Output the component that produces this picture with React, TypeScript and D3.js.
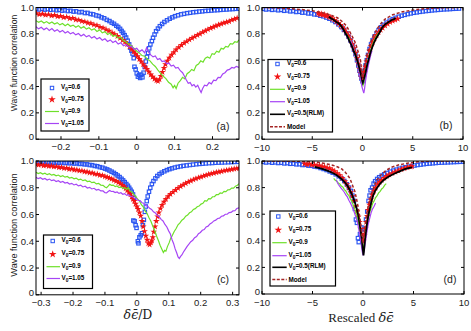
import React from 'react';
import * as d3 from 'd3';

type Pt = [number, number];

// ---- panel (a): correlation vs δε/D ----
const aBlue: Pt[] = [[-0.265,0.99],[-0.258,0.985],[-0.25,0.99],[-0.243,0.984],[-0.235,0.988],[-0.228,0.982],[-0.22,0.985],[-0.212,0.979],[-0.205,0.982],[-0.197,0.976],[-0.19,0.979],[-0.182,0.973],[-0.175,0.975],[-0.167,0.969],[-0.16,0.971],[-0.152,0.964],[-0.145,0.966],[-0.137,0.958],[-0.13,0.959],[-0.122,0.951],[-0.115,0.948],[-0.107,0.94],[-0.1,0.935],[-0.093,0.925],[-0.086,0.918],[-0.079,0.906],[-0.072,0.897],[-0.066,0.885],[-0.06,0.876],[-0.054,0.862],[-0.049,0.852],[-0.044,0.838],[-0.04,0.822],[-0.036,0.808],[-0.032,0.79],[-0.028,0.772],[-0.024,0.748],[-0.02,0.72],[-0.017,0.695],[-0.014,0.672],[-0.011,0.65],[-0.008,0.615],[-0.006,0.55],[-0.003,0.53],[0,0.5],[0.003,0.475],[0.006,0.488],[0.009,0.465],[0.012,0.49],[0.015,0.47],[0.018,0.505],[0.021,0.548],[0.024,0.59],[0.027,0.625],[0.03,0.655],[0.033,0.69],[0.036,0.72],[0.04,0.745],[0.043,0.77],[0.047,0.795],[0.051,0.82],[0.056,0.84],[0.061,0.858],[0.067,0.875],[0.073,0.89],[0.08,0.903],[0.087,0.915],[0.094,0.925],[0.101,0.934],[0.109,0.941],[0.117,0.948],[0.125,0.952],[0.133,0.957],[0.141,0.96],[0.149,0.964],[0.157,0.966],[0.165,0.969],[0.173,0.971],[0.181,0.974],[0.189,0.975],[0.197,0.977],[0.205,0.979],[0.213,0.98],[0.221,0.982],[0.229,0.984],[0.237,0.985],[0.245,0.987],[0.253,0.988],[0.261,0.99],[0.268,0.991]];
const aRed: Pt[] = [[-0.265,0.955],[-0.257,0.947],[-0.249,0.952],[-0.241,0.943],[-0.233,0.947],[-0.225,0.938],[-0.217,0.942],[-0.209,0.932],[-0.201,0.935],[-0.193,0.925],[-0.185,0.928],[-0.177,0.917],[-0.169,0.919],[-0.161,0.908],[-0.153,0.905],[-0.145,0.896],[-0.137,0.892],[-0.129,0.884],[-0.121,0.879],[-0.113,0.869],[-0.105,0.864],[-0.097,0.852],[-0.089,0.845],[-0.081,0.832],[-0.073,0.822],[-0.065,0.808],[-0.058,0.797],[-0.051,0.782],[-0.044,0.768],[-0.037,0.752],[-0.031,0.738],[-0.025,0.72],[-0.019,0.703],[-0.013,0.683],[-0.008,0.665],[-0.003,0.648],[0.002,0.63],[0.007,0.608],[0.012,0.59],[0.017,0.568],[0.022,0.55],[0.027,0.532],[0.032,0.512],[0.037,0.49],[0.042,0.473],[0.047,0.458],[0.052,0.447],[0.056,0.44],[0.06,0.455],[0.064,0.48],[0.068,0.51],[0.072,0.54],[0.076,0.568],[0.081,0.595],[0.086,0.618],[0.092,0.64],[0.098,0.66],[0.104,0.68],[0.111,0.698],[0.118,0.715],[0.125,0.73],[0.132,0.742],[0.139,0.755],[0.146,0.768],[0.153,0.778],[0.16,0.79],[0.167,0.8],[0.174,0.812],[0.181,0.822],[0.188,0.833],[0.195,0.843],[0.202,0.851],[0.209,0.86],[0.216,0.868],[0.223,0.875],[0.23,0.883],[0.237,0.889],[0.244,0.895],[0.251,0.905],[0.258,0.912],[0.265,0.92]];
const aGreen: Pt[] = [[-0.266,0.9],[-0.259,0.888],[-0.252,0.897],[-0.245,0.882],[-0.238,0.893],[-0.231,0.878],[-0.224,0.89],[-0.217,0.874],[-0.21,0.885],[-0.203,0.868],[-0.196,0.879],[-0.189,0.862],[-0.182,0.874],[-0.175,0.858],[-0.168,0.866],[-0.161,0.85],[-0.154,0.862],[-0.147,0.843],[-0.14,0.855],[-0.133,0.836],[-0.126,0.846],[-0.119,0.828],[-0.112,0.838],[-0.105,0.818],[-0.098,0.83],[-0.091,0.808],[-0.084,0.817],[-0.077,0.795],[-0.07,0.806],[-0.063,0.782],[-0.056,0.79],[-0.049,0.768],[-0.042,0.774],[-0.035,0.748],[-0.028,0.738],[-0.021,0.72],[-0.014,0.708],[-0.007,0.69],[0,0.668],[0.007,0.655],[0.014,0.635],[0.021,0.63],[0.028,0.607],[0.035,0.595],[0.042,0.57],[0.049,0.552],[0.056,0.525],[0.063,0.5],[0.07,0.478],[0.077,0.46],[0.084,0.432],[0.091,0.418],[0.096,0.39],[0.1,0.408],[0.104,0.385],[0.109,0.425],[0.115,0.445],[0.121,0.47],[0.127,0.458],[0.133,0.497],[0.139,0.51],[0.145,0.53],[0.151,0.52],[0.157,0.56],[0.163,0.57],[0.169,0.595],[0.175,0.585],[0.181,0.615],[0.187,0.625],[0.193,0.615],[0.199,0.65],[0.205,0.645],[0.211,0.668],[0.217,0.66],[0.223,0.69],[0.229,0.685],[0.235,0.705],[0.241,0.7],[0.247,0.725],[0.253,0.722],[0.259,0.74],[0.265,0.735],[0.27,0.755]];
const aPurple: Pt[] = [[-0.266,0.855],[-0.259,0.838],[-0.252,0.85],[-0.245,0.832],[-0.238,0.845],[-0.231,0.826],[-0.224,0.84],[-0.217,0.82],[-0.21,0.832],[-0.203,0.814],[-0.196,0.826],[-0.189,0.806],[-0.182,0.818],[-0.175,0.8],[-0.168,0.81],[-0.161,0.792],[-0.154,0.803],[-0.147,0.784],[-0.14,0.796],[-0.133,0.777],[-0.126,0.788],[-0.119,0.768],[-0.112,0.78],[-0.105,0.76],[-0.098,0.772],[-0.091,0.752],[-0.084,0.763],[-0.077,0.742],[-0.07,0.754],[-0.063,0.734],[-0.056,0.745],[-0.049,0.722],[-0.042,0.732],[-0.035,0.71],[-0.028,0.72],[-0.021,0.7],[-0.014,0.705],[-0.007,0.682],[0,0.69],[0.007,0.665],[0.014,0.678],[0.021,0.655],[0.026,0.695],[0.031,0.66],[0.037,0.64],[0.043,0.625],[0.049,0.632],[0.055,0.605],[0.061,0.612],[0.067,0.59],[0.073,0.595],[0.079,0.572],[0.085,0.578],[0.091,0.555],[0.097,0.562],[0.103,0.54],[0.109,0.545],[0.115,0.52],[0.121,0.505],[0.126,0.478],[0.131,0.45],[0.136,0.425],[0.141,0.43],[0.146,0.405],[0.151,0.415],[0.156,0.395],[0.161,0.41],[0.166,0.378],[0.17,0.355],[0.174,0.385],[0.179,0.41],[0.185,0.405],[0.191,0.43],[0.197,0.42],[0.203,0.448],[0.209,0.445],[0.215,0.47],[0.221,0.468],[0.227,0.495],[0.233,0.505],[0.239,0.525],[0.245,0.53],[0.251,0.545],[0.257,0.54],[0.263,0.553],[0.27,0.545]];

// ---- panel (b): rescaled, same data set as (a) ----
const bBlue: Pt[] = [[-9.9,0.99],[-9.6,0.985],[-9.3,0.988],[-9,0.982],[-8.7,0.985],[-8.4,0.979],[-8.1,0.982],[-7.8,0.975],[-7.5,0.978],[-7.2,0.971],[-6.9,0.973],[-6.6,0.966],[-6.3,0.968],[-6,0.961],[-5.7,0.962],[-5.4,0.955],[-5.1,0.956],[-4.8,0.948],[-4.5,0.946],[-4.2,0.938],[-3.9,0.933],[-3.6,0.924],[-3.3,0.915],[-3,0.903],[-2.7,0.89],[-2.4,0.872],[-2.1,0.852],[-1.85,0.83],[-1.6,0.805],[-1.4,0.78],[-1.2,0.75],[-1,0.715],[-0.85,0.68],[-0.7,0.645],[-0.55,0.6],[-0.42,0.56],[-0.3,0.52],[-0.2,0.49],[-0.1,0.46],[0,0.44],[0.1,0.47],[0.2,0.52],[0.3,0.56],[0.42,0.6],[0.55,0.64],[0.7,0.685],[0.85,0.72],[1,0.75],[1.2,0.78],[1.4,0.805],[1.6,0.828],[1.85,0.85],[2.1,0.868],[2.4,0.885],[2.7,0.9],[3,0.912],[3.3,0.922],[3.6,0.93],[3.9,0.938],[4.2,0.944],[4.5,0.95],[4.8,0.955],[5.1,0.96],[5.4,0.963],[5.7,0.967],[6,0.97],[6.3,0.973],[6.6,0.975],[6.9,0.978],[7.2,0.98],[7.5,0.982],[7.8,0.984],[8.1,0.986],[8.4,0.987],[8.7,0.988],[9,0.99],[9.3,0.991],[9.6,0.992]];
const bRed: Pt[] = [[-4.4,0.955],[-4.25,0.948],[-4.1,0.952],[-3.95,0.943],[-3.8,0.946],[-3.65,0.937],[-3.5,0.938],[-3.35,0.928],[-3.2,0.925],[-3,0.915],[-2.8,0.905],[-2.6,0.893],[-2.4,0.88],[-2.2,0.866],[-2,0.85],[-1.8,0.832],[-1.6,0.81],[-1.4,0.785],[-1.2,0.755],[-1,0.72],[-0.85,0.69],[-0.7,0.655],[-0.55,0.615],[-0.42,0.575],[-0.3,0.535],[-0.2,0.5],[-0.1,0.47],[0,0.45],[0.1,0.47],[0.2,0.51],[0.3,0.55],[0.42,0.59],[0.55,0.63],[0.7,0.67],[0.85,0.705],[1,0.735],[1.2,0.765],[1.4,0.79],[1.6,0.812],[1.8,0.83],[2,0.845],[2.25,0.862],[2.5,0.876],[2.75,0.888],[3,0.898],[3.25,0.906],[3.5,0.913]];
const bGreen: Pt[] = [[-1.6,0.8],[-1.45,0.775],[-1.3,0.76],[-1.15,0.73],[-1,0.71],[-0.85,0.675],[-0.7,0.64],[-0.55,0.6],[-0.4,0.55],[-0.28,0.51],[-0.16,0.47],[-0.05,0.43],[0.05,0.41],[0.15,0.44],[0.25,0.48],[0.38,0.53],[0.5,0.575],[0.62,0.62],[0.75,0.655],[0.88,0.69],[1,0.72],[1.15,0.745],[1.3,0.77],[1.45,0.79],[1.6,0.805],[1.7,0.815]];
const bPurple: Pt[] = [[-1.2,0.75],[-1.05,0.72],[-0.9,0.69],[-0.75,0.65],[-0.6,0.61],[-0.45,0.56],[-0.3,0.5],[-0.18,0.45],[-0.06,0.4],[0.05,0.37],[0.13,0.35],[0.2,0.38],[0.3,0.44],[0.42,0.5],[0.55,0.55],[0.7,0.6],[0.85,0.65],[0.95,0.67]];
const bBlack: Pt[] = [[-3.35,0.93],[-3.1,0.917],[-2.85,0.905],[-2.6,0.89],[-2.37,0.88],[-2.15,0.862],[-1.95,0.84],[-1.7,0.805],[-1.5,0.78],[-1.3,0.745],[-1.1,0.715],[-0.9,0.675],[-0.7,0.64],[-0.53,0.6],[-0.38,0.56],[-0.25,0.52],[-0.12,0.48],[-0.03,0.445],[0.03,0.43],[0.1,0.45],[0.2,0.475],[0.3,0.505],[0.45,0.56],[0.63,0.61],[0.8,0.66],[0.98,0.7],[1.13,0.73],[1.35,0.765],[1.63,0.8],[1.9,0.84],[2.1,0.86],[2.3,0.875],[2.6,0.89],[2.9,0.905],[3.1,0.91],[3.3,0.92]];
const bModel: Pt[] = [[-10,1],[-8.5,0.997],[-7,0.99],[-6,0.984],[-5,0.975],[-4.3,0.965],[-3.7,0.955],[-3,0.938],[-2.5,0.922],[-2.2,0.905],[-1.9,0.885],[-1.6,0.86],[-1.37,0.83],[-1.15,0.8],[-0.95,0.77],[-0.7,0.73],[-0.5,0.68],[-0.3,0.63],[-0.2,0.6],[-0.1,0.53],[0,0.45],[0.1,0.52],[0.2,0.56],[0.3,0.59],[0.5,0.66],[0.8,0.73],[1.1,0.79],[1.47,0.84],[1.9,0.885],[2.3,0.915],[3,0.945],[4,0.968],[5,0.98],[5.7,0.988],[7,0.995],[8.5,0.998],[10,1]];

// ---- panel (c) ----
const cBlue: Pt[] = [[-0.316,0.995],[-0.308,0.99],[-0.3,0.994],[-0.292,0.989],[-0.284,0.993],[-0.276,0.988],[-0.268,0.992],[-0.26,0.987],[-0.252,0.99],[-0.244,0.986],[-0.236,0.989],[-0.228,0.985],[-0.22,0.987],[-0.212,0.983],[-0.204,0.985],[-0.196,0.981],[-0.188,0.983],[-0.18,0.978],[-0.172,0.979],[-0.164,0.975],[-0.156,0.975],[-0.148,0.97],[-0.14,0.969],[-0.132,0.963],[-0.124,0.961],[-0.116,0.954],[-0.108,0.95],[-0.1,0.943],[-0.093,0.937],[-0.086,0.929],[-0.079,0.92],[-0.072,0.911],[-0.066,0.901],[-0.06,0.891],[-0.054,0.88],[-0.048,0.867],[-0.043,0.855],[-0.038,0.842],[-0.033,0.828],[-0.028,0.815],[-0.024,0.8],[-0.02,0.785],[-0.016,0.77],[-0.012,0.75],[-0.009,0.725],[-0.011,0.555],[-0.007,0.55],[-0.004,0.52],[-0.001,0.5],[0.003,0.4],[0.005,0.385],[0.008,0.43],[0.012,0.445],[0.016,0.46],[0.019,0.52],[0.022,0.56],[0.025,0.62],[0.028,0.66],[0.031,0.7],[0.034,0.735],[0.038,0.77],[0.042,0.8],[0.047,0.828],[0.052,0.85],[0.058,0.87],[0.064,0.888],[0.071,0.902],[0.078,0.913],[0.086,0.923],[0.094,0.932],[0.102,0.939],[0.11,0.945],[0.119,0.951],[0.128,0.956],[0.137,0.96],[0.146,0.964],[0.156,0.967],[0.166,0.97],[0.176,0.973],[0.186,0.976],[0.196,0.978],[0.206,0.98],[0.216,0.982],[0.226,0.984],[0.236,0.985],[0.246,0.987],[0.256,0.988],[0.266,0.989],[0.276,0.99],[0.286,0.991],[0.296,0.992],[0.306,0.993],[0.316,0.994]];
const cRed: Pt[] = [[-0.316,0.975],[-0.308,0.97],[-0.3,0.973],[-0.292,0.966],[-0.284,0.968],[-0.276,0.962],[-0.268,0.964],[-0.26,0.957],[-0.252,0.959],[-0.244,0.952],[-0.236,0.953],[-0.228,0.946],[-0.22,0.947],[-0.212,0.94],[-0.204,0.941],[-0.196,0.934],[-0.188,0.934],[-0.18,0.927],[-0.172,0.927],[-0.164,0.92],[-0.156,0.919],[-0.148,0.912],[-0.14,0.911],[-0.132,0.903],[-0.124,0.902],[-0.116,0.894],[-0.108,0.892],[-0.1,0.884],[-0.093,0.879],[-0.086,0.872],[-0.079,0.866],[-0.072,0.857],[-0.065,0.85],[-0.058,0.84],[-0.052,0.831],[-0.046,0.82],[-0.04,0.808],[-0.035,0.795],[-0.03,0.78],[-0.025,0.765],[-0.02,0.75],[-0.016,0.732],[-0.012,0.715],[-0.008,0.7],[-0.004,0.68],[0,0.66],[0.004,0.64],[0.008,0.615],[0.012,0.59],[0.016,0.55],[0.02,0.51],[0.024,0.475],[0.028,0.44],[0.032,0.41],[0.036,0.385],[0.04,0.375],[0.044,0.39],[0.047,0.405],[0.05,0.43],[0.053,0.47],[0.057,0.51],[0.061,0.55],[0.065,0.585],[0.069,0.615],[0.074,0.645],[0.079,0.67],[0.085,0.695],[0.091,0.715],[0.098,0.735],[0.105,0.752],[0.113,0.768],[0.121,0.783],[0.129,0.797],[0.137,0.81],[0.145,0.822],[0.153,0.833],[0.161,0.843],[0.169,0.852],[0.177,0.86],[0.185,0.868],[0.193,0.875],[0.201,0.882],[0.209,0.888],[0.217,0.894],[0.225,0.9],[0.233,0.905],[0.241,0.91],[0.249,0.915],[0.257,0.919],[0.265,0.923],[0.273,0.927],[0.281,0.931],[0.289,0.934],[0.297,0.938],[0.305,0.941],[0.313,0.944],[0.32,0.947]];
const cGreen: Pt[] = [[-0.316,0.915],[-0.309,0.906],[-0.302,0.913],[-0.295,0.902],[-0.288,0.909],[-0.281,0.898],[-0.274,0.905],[-0.267,0.894],[-0.26,0.9],[-0.253,0.889],[-0.246,0.895],[-0.239,0.884],[-0.232,0.89],[-0.225,0.879],[-0.218,0.884],[-0.211,0.873],[-0.204,0.878],[-0.197,0.867],[-0.19,0.872],[-0.183,0.86],[-0.176,0.865],[-0.169,0.853],[-0.162,0.858],[-0.155,0.846],[-0.148,0.85],[-0.141,0.838],[-0.134,0.842],[-0.127,0.829],[-0.12,0.833],[-0.113,0.82],[-0.106,0.818],[-0.1,0.806],[-0.095,0.8],[-0.09,0.812],[-0.085,0.826],[-0.08,0.818],[-0.074,0.82],[-0.068,0.808],[-0.062,0.813],[-0.056,0.801],[-0.05,0.807],[-0.044,0.795],[-0.038,0.8],[-0.032,0.788],[-0.027,0.802],[-0.022,0.776],[-0.016,0.77],[-0.01,0.75],[-0.004,0.737],[0.002,0.716],[0.008,0.702],[0.014,0.673],[0.02,0.657],[0.026,0.626],[0.032,0.607],[0.038,0.576],[0.044,0.55],[0.05,0.513],[0.056,0.48],[0.062,0.438],[0.068,0.402],[0.073,0.368],[0.078,0.342],[0.083,0.316],[0.087,0.332],[0.091,0.326],[0.096,0.362],[0.101,0.388],[0.106,0.422],[0.111,0.443],[0.117,0.473],[0.123,0.495],[0.129,0.523],[0.135,0.537],[0.141,0.558],[0.147,0.568],[0.153,0.588],[0.159,0.596],[0.165,0.613],[0.171,0.62],[0.177,0.638],[0.183,0.644],[0.189,0.658],[0.195,0.663],[0.201,0.678],[0.207,0.684],[0.213,0.703],[0.219,0.7],[0.225,0.718],[0.231,0.717],[0.237,0.733],[0.243,0.734],[0.249,0.748],[0.255,0.748],[0.261,0.761],[0.267,0.758],[0.273,0.773],[0.279,0.771],[0.285,0.784],[0.291,0.786],[0.297,0.798],[0.303,0.797],[0.309,0.812],[0.315,0.818],[0.32,0.83]];
const cPurple: Pt[] = [[-0.316,0.878],[-0.309,0.868],[-0.302,0.875],[-0.295,0.863],[-0.288,0.87],[-0.281,0.858],[-0.274,0.865],[-0.267,0.853],[-0.26,0.859],[-0.253,0.847],[-0.246,0.853],[-0.239,0.841],[-0.232,0.847],[-0.225,0.835],[-0.218,0.84],[-0.211,0.828],[-0.204,0.833],[-0.197,0.821],[-0.19,0.826],[-0.183,0.814],[-0.176,0.819],[-0.169,0.806],[-0.162,0.811],[-0.155,0.798],[-0.148,0.803],[-0.141,0.791],[-0.134,0.796],[-0.127,0.783],[-0.12,0.788],[-0.113,0.776],[-0.106,0.776],[-0.1,0.763],[-0.095,0.762],[-0.09,0.772],[-0.085,0.78],[-0.08,0.772],[-0.074,0.773],[-0.068,0.764],[-0.062,0.769],[-0.056,0.758],[-0.05,0.763],[-0.044,0.751],[-0.038,0.756],[-0.032,0.743],[-0.026,0.748],[-0.02,0.735],[-0.014,0.734],[-0.008,0.722],[-0.002,0.721],[0.004,0.706],[0.01,0.704],[0.016,0.688],[0.022,0.684],[0.028,0.666],[0.034,0.662],[0.04,0.646],[0.046,0.638],[0.052,0.62],[0.058,0.612],[0.064,0.593],[0.07,0.584],[0.076,0.564],[0.082,0.552],[0.088,0.526],[0.094,0.507],[0.1,0.476],[0.105,0.454],[0.11,0.413],[0.115,0.384],[0.12,0.343],[0.125,0.312],[0.129,0.283],[0.133,0.272],[0.137,0.287],[0.141,0.298],[0.146,0.32],[0.151,0.338],[0.157,0.36],[0.163,0.378],[0.169,0.397],[0.175,0.408],[0.181,0.427],[0.187,0.436],[0.193,0.457],[0.199,0.466],[0.205,0.482],[0.211,0.488],[0.217,0.507],[0.223,0.513],[0.229,0.53],[0.235,0.538],[0.241,0.552],[0.247,0.558],[0.253,0.57],[0.259,0.573],[0.265,0.587],[0.271,0.59],[0.277,0.602],[0.283,0.603],[0.289,0.614],[0.295,0.616],[0.301,0.627],[0.307,0.628],[0.313,0.645],[0.32,0.65]];

// ---- panel (d) ----
const dBlue: Pt[] = [[-9.9,0.993],[-9.6,0.989],[-9.3,0.992],[-9,0.987],[-8.7,0.99],[-8.4,0.985],[-8.1,0.987],[-7.8,0.982],[-7.5,0.984],[-7.2,0.979],[-6.9,0.98],[-6.6,0.975],[-6.3,0.976],[-6,0.97],[-5.7,0.971],[-5.4,0.965],[-5.1,0.964],[-4.8,0.958],[-4.5,0.955],[-4.2,0.947],[-3.9,0.94],[-3.6,0.932],[-3.3,0.922],[-3,0.912],[-2.7,0.9],[-2.4,0.885],[-2.1,0.868],[-1.85,0.85],[-1.6,0.825],[-1.4,0.8],[-1.2,0.775],[-1.05,0.74],[-0.9,0.7],[-0.8,0.64],[-0.7,0.56],[-0.6,0.535],[-0.5,0.42],[-0.42,0.39],[-0.3,0.45],[-0.15,0.5],[0,0.46],[0.15,0.49],[0.3,0.56],[0.42,0.62],[0.55,0.7],[0.65,0.74],[0.75,0.78],[0.9,0.8],[1.05,0.83],[1.2,0.848],[1.4,0.865],[1.6,0.878],[1.85,0.89],[2.1,0.9],[2.4,0.91],[2.7,0.92],[3,0.928],[3.3,0.935],[3.6,0.942],[3.9,0.948],[4.2,0.953],[4.5,0.958],[4.8,0.962],[5.1,0.966],[5.4,0.97],[5.7,0.973],[6,0.976],[6.3,0.979],[6.6,0.981],[6.9,0.983],[7.2,0.985],[7.5,0.987],[7.8,0.988],[8.1,0.989],[8.4,0.99],[8.7,0.991],[9,0.992],[9.3,0.993],[9.6,0.994],[9.9,0.995]];
const dRed: Pt[] = [[-5.8,0.98],[-5.55,0.975],[-5.3,0.978],[-5.05,0.97],[-4.8,0.972],[-4.55,0.965],[-4.3,0.966],[-4.05,0.958],[-3.8,0.957],[-3.55,0.948],[-3.3,0.944],[-3.05,0.933],[-2.8,0.922],[-2.55,0.908],[-2.3,0.892],[-2.05,0.872],[-1.8,0.848],[-1.6,0.825],[-1.4,0.798],[-1.2,0.765],[-1.05,0.735],[-0.9,0.7],[-0.75,0.66],[-0.6,0.62],[-0.47,0.58],[-0.35,0.54],[-0.23,0.49],[-0.12,0.45],[-0.03,0.41],[0.05,0.4],[0.13,0.44],[0.22,0.49],[0.32,0.54],[0.42,0.585],[0.53,0.63],[0.65,0.67],[0.78,0.71],[0.92,0.745],[1.08,0.775],[1.25,0.8],[1.45,0.825],[1.65,0.843],[1.85,0.857],[2.1,0.872],[2.35,0.886],[2.6,0.897],[2.9,0.908],[3.2,0.918],[3.5,0.928],[3.8,0.937],[4.1,0.945],[4.4,0.952],[4.7,0.958],[4.85,0.96]];
const dGreen: Pt[] = [[-2.9,0.87],[-2.75,0.855],[-2.6,0.848],[-2.45,0.835],[-2.3,0.828],[-2.15,0.812],[-2,0.805],[-1.85,0.785],[-1.7,0.775],[-1.55,0.752],[-1.4,0.74],[-1.25,0.715],[-1.1,0.695],[-0.95,0.665],[-0.8,0.635],[-0.65,0.6],[-0.5,0.56],[-0.35,0.5],[-0.22,0.44],[-0.1,0.38],[0,0.34],[0.1,0.37],[0.22,0.43],[0.35,0.5],[0.5,0.56],[0.65,0.61],[0.8,0.645],[0.95,0.68],[1.1,0.7],[1.25,0.725],[1.4,0.74],[1.55,0.76],[1.7,0.772],[1.85,0.79],[2,0.8],[2.15,0.818],[2.3,0.83]];
const dPurple: Pt[] = [[-2.65,0.86],[-2.55,0.84],[-2.45,0.825],[-2.3,0.81],[-2.15,0.795],[-2,0.78],[-1.85,0.765],[-1.7,0.745],[-1.55,0.73],[-1.4,0.705],[-1.25,0.685],[-1.1,0.66],[-0.95,0.635],[-0.8,0.6],[-0.65,0.565],[-0.5,0.52],[-0.35,0.46],[-0.22,0.4],[-0.1,0.33],[0,0.29],[0.1,0.32],[0.22,0.38],[0.35,0.45],[0.5,0.52],[0.65,0.565],[0.8,0.61],[0.95,0.64],[1.1,0.66],[1.25,0.685]];
const dBlack: Pt[] = [[-4.8,0.955],[-4.5,0.95],[-4.2,0.944],[-3.9,0.937],[-3.6,0.93],[-3.3,0.92],[-3,0.91],[-2.7,0.898],[-2.4,0.882],[-2.1,0.863],[-1.8,0.84],[-1.55,0.815],[-1.3,0.78],[-1.1,0.75],[-0.9,0.71],[-0.75,0.675],[-0.6,0.635],[-0.45,0.585],[-0.32,0.52],[-0.2,0.46],[-0.1,0.4],[-0.03,0.34],[0.05,0.29],[0.12,0.34],[0.2,0.41],[0.3,0.47],[0.42,0.54],[0.55,0.6],[0.7,0.65],[0.85,0.7],[1,0.74],[1.2,0.775],[1.45,0.805],[1.7,0.83],[2,0.853],[2.3,0.87],[2.6,0.885],[3,0.9],[3.4,0.915],[3.8,0.928],[4.2,0.94],[4.6,0.948],[4.85,0.953]];
const dModel: Pt[] = [[-10,1],[-8,1],[-6.5,0.998],[-5.5,0.995],[-4.5,0.99],[-3.7,0.98],[-3,0.968],[-2.5,0.955],[-2.1,0.94],[-1.75,0.915],[-1.5,0.89],[-1.3,0.87],[-1.05,0.82],[-0.8,0.77],[-0.6,0.7],[-0.4,0.62],[-0.25,0.54],[-0.13,0.46],[-0.05,0.4],[0,0.38],[0.05,0.4],[0.13,0.46],[0.25,0.54],[0.37,0.6],[0.55,0.68],[0.86,0.76],[1.1,0.81],[1.3,0.85],[1.6,0.88],[1.85,0.9],[2.3,0.93],[2.8,0.952],[3.5,0.97],[4.5,0.985],[5.5,0.995],[7,1],[10,1]];

const yTicks = [0, 0.2, 0.4, 0.6, 0.8, 1.0];
const legendLabels = ['0.6', '0.75', '0.9', '1.05', '0.5(RLM)'];

const BLUE = '#2a55f2';
const RED = '#f21414';
const GREEN = '#6ee02a';
const PURPLE = '#a645f5';
const MODEL = '#a52424';
const SANS = 'Liberation Sans, Arial, Helvetica, sans-serif';

const minus = (s: string) => s.replace('-', '\u2212');

function Panel({ cfg }: { cfg: any }) {
  const x = d3.scaleLinear().domain(cfg.xDomain).range(cfg.xRange);
  const y = d3.scaleLinear().domain([0, 1]).range(cfg.yRange);
  const [x0, x1] = cfg.xRange;
  const [yb, yt] = cfg.yRange;
  const line = d3.line<Pt>().x(d => x(d[0])).y(d => y(d[1]));
  const star = d3.symbol().type(d3.symbolStar).size(14)();
  const starL = d3.symbol().type(d3.symbolStar).size(18)();
  const clip = `clip-${cfg.id}`;
  const s = cfg.series;
  const lg = cfg.legend;
  const fmt = cfg.xFmt;

  const legendItems: string[] = s.black ? ['sq', 'st', 'g', 'p', 'k', 'm'] : ['sq', 'st', 'g', 'p'];

  return (
    <g>
      <defs>
        <clipPath id={clip}>
          <rect x={x0} y={yt} width={x1 - x0} height={yb - yt} />
        </clipPath>
      </defs>
      <g clipPath={`url(#${clip})`}>
        {s.blue.map((d: Pt, i: number) => (
          <rect key={'b' + i} x={x(d[0]) - 1.7} y={y(d[1]) - 1.7} width={3.4} height={3.4}
            fill="none" stroke={BLUE} strokeWidth={1.15} />
        ))}
        {s.red.map((d: Pt, i: number) => (
          <path key={'r' + i} d={star as string} transform={`translate(${x(d[0])},${y(d[1])})`} fill={RED} />
        ))}
        <path d={line(s.green) as string} fill="none" stroke={GREEN} strokeWidth={1.2} />
        <path d={line(s.purple) as string} fill="none" stroke={PURPLE} strokeWidth={1.2} />
        {s.black && <path d={line(s.black) as string} fill="none" stroke="#000" strokeWidth={1.8} />}
        {s.model && <path d={line(s.model) as string} fill="none" stroke={MODEL} strokeWidth={1.5} strokeDasharray="3,2" />}
      </g>
      <rect x={x0} y={yt} width={x1 - x0} height={yb - yt} fill="none" stroke="#000" strokeWidth={1} />
      {cfg.xTicks.map((t: number) => (
        <g key={'xt' + t}>
          <line x1={x(t)} x2={x(t)} y1={yb} y2={yb - 3} stroke="#000" />
          <line x1={x(t)} x2={x(t)} y1={yt} y2={yt + 3} stroke="#000" />
          <text x={x(t)} y={cfg.xLabelY} textAnchor="middle" fontSize={9.5} fontFamily={SANS} fill="#222">
            {t === 0 ? '0' : minus(fmt(t))}
          </text>
        </g>
      ))}
      {yTicks.map(t => (
        <g key={'yt' + t}>
          <line x1={x0} x2={x0 + 3} y1={y(t)} y2={y(t)} stroke="#000" />
          <line x1={x1} x2={x1 - 3} y1={y(t)} y2={y(t)} stroke="#000" />
          <text x={x0 - 2} y={y(t) + (t === 0 ? 1.2 : 3.4)} textAnchor="end" fontSize={9.5} fontFamily={SANS} fill="#222">
            {t === 0 ? '0' : d3.format('.1f')(t)}
          </text>
        </g>
      ))}
      <rect x={lg.x0} y={lg.y0} width={lg.x1 - lg.x0} height={lg.y1 - lg.y0} fill="#fff" stroke="#000" strokeWidth={1.2} />
      {legendItems.map((k, i) => {
        const ry = lg.rows[i];
        let mark;
        if (k === 'sq') mark = <rect x={lg.mx - 1.7} y={ry - 1.7} width={3.4} height={3.4} fill="none" stroke={BLUE} strokeWidth={1} />;
        else if (k === 'st') mark = <path d={starL as string} transform={`translate(${lg.mx},${ry})`} fill={RED} />;
        else {
          const col = k === 'g' ? GREEN : k === 'p' ? PURPLE : k === 'k' ? '#000' : MODEL;
          mark = <line x1={lg.lx0} x2={lg.lx1} y1={ry} y2={ry} stroke={col} strokeWidth={k === 'k' ? 1.6 : k === 'm' ? 1.5 : 1.2}
            strokeDasharray={k === 'm' ? '3,1.5' : undefined} />;
        }
        return (
          <g key={'lg' + i}>
            {mark}
            {k === 'm' ? (
              <text x={lg.tx} y={ry + 2.2} fontSize={6.3} fontWeight="bold" fontFamily={SANS}>Model</text>
            ) : (
              <text x={lg.tx} y={ry + 1} fontSize={6.3} fontWeight="bold" fontFamily={SANS}>
                V<tspan dy={2} fontSize={4.8}>0</tspan><tspan dy={-2}>={legendLabels[i]}</tspan>
              </text>
            )}
          </g>
        );
      })}
      <text x={cfg.tag.x} y={cfg.tag.y} textAnchor="middle" fontSize={10.5} fontFamily={SANS} fill="#222">{cfg.tag.t}</text>
    </g>
  );
}

const panels = [
  {
    id: 'a', xDomain: [-0.266, 0.27], xRange: [36, 239], yRange: [139.2, 7.5],
    xTicks: [-0.2, -0.1, 0, 0.1, 0.2], xFmt: d3.format('.1f'), xLabelY: 150,
    series: { blue: aBlue, red: aRed, green: aGreen, purple: aPurple },
    legend: { x0: 41, y0: 79, x1: 89, y1: 131, rows: [88, 99.5, 111.5, 123.5], mx: 52, lx0: 45, lx1: 59, tx: 61 },
    tag: { x: 223, y: 129.5, t: '(a)' },
  },
  {
    id: 'b', xDomain: [-10, 10], xRange: [262, 463], yRange: [139.2, 7.5],
    xTicks: [-10, -5, 0, 5, 10], xFmt: d3.format('d'), xLabelY: 151,
    series: { blue: bBlue, red: bRed, green: bGreen, purple: bPurple, black: bBlack, model: bModel },
    legend: { x0: 268, y0: 59.5, x1: 332.5, y1: 132, rows: [64, 76.7, 89.3, 101.7, 114.3, 126.7], mx: 277.5, lx0: 270, lx1: 285, tx: 287 },
    tag: { x: 446, y: 129, t: '(b)' },
  },
  {
    id: 'c', xDomain: [-0.316, 0.32], xRange: [36, 239], yRange: [294.8, 161],
    xTicks: [-0.3, -0.2, -0.1, 0, 0.1, 0.2, 0.3], xFmt: d3.format('.1f'), xLabelY: 306,
    series: { blue: cBlue, red: cRed, green: cGreen, purple: cPurple },
    legend: { x0: 43.5, y0: 235, x1: 92.5, y1: 288.5, rows: [241, 254.3, 266.7, 278.5], mx: 52.7, lx0: 46.5, lx1: 60, tx: 61.5 },
    tag: { x: 223, y: 283, t: '(c)' },
  },
  {
    id: 'd', xDomain: [-10, 10], xRange: [262, 464], yRange: [294, 161],
    xTicks: [-10, -5, 0, 5, 10], xFmt: d3.format('d'), xLabelY: 305.5,
    series: { blue: dBlue, red: dRed, green: dGreen, purple: dPurple, black: dBlack, model: dModel },
    legend: { x0: 270, y0: 211, x1: 335.5, y1: 286, rows: [216.5, 230, 242.7, 255.7, 267.3, 279.5], mx: 278.3, lx0: 272.3, lx1: 286.7, tx: 288.5 },
    tag: { x: 450, y: 283, t: '(d)' },
  },
];

export default function App() {
  return (
    <svg width={471} height={331} style={{ position: 'absolute', left: 0, top: 0, background: '#fff' }}>
      {panels.map(p => <Panel key={p.id} cfg={p} />)}
      <text transform="translate(16.5,63) rotate(-90)" textAnchor="middle" fontSize={8.6} fontFamily={SANS} fill="#222">
        Wave function correlation
      </text>
      <text transform="translate(16.5,225) rotate(-90)" textAnchor="middle" fontSize={9.2} fontFamily={SANS} fill="#222">
        Wave function correlation
      </text>
      <text x={138} y={318.5} textAnchor="middle" fontSize={12.5} fontFamily="DejaVu Serif, serif" fill="#222">
        <tspan fontStyle="italic">{'δϵ\u0304'}</tspan><tspan>/D</tspan>
      </text>
      <text x={361} y={322} textAnchor="middle" fontSize={13} fontFamily="Liberation Serif, Times New Roman, serif" fill="#222">
        Rescaled <tspan fontStyle="italic" fontFamily="DejaVu Serif, serif">{'δϵ\u0304'}</tspan>
      </text>
    </svg>
  );
}
